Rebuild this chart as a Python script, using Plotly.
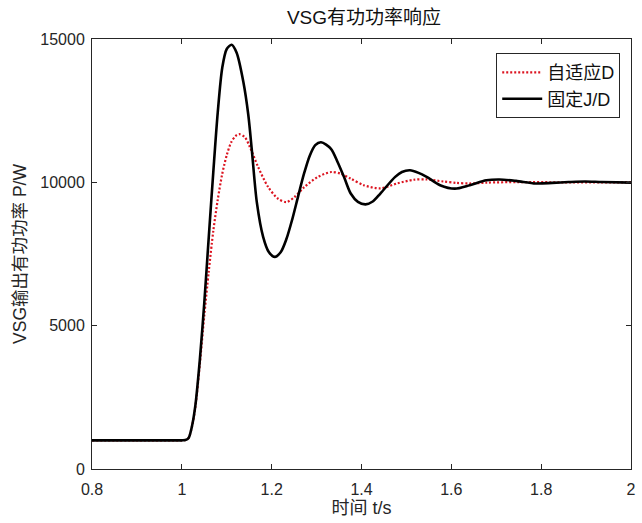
import plotly.graph_objects as go

# Fixed J/D response (time in s, active power in W)
t_fixed = [0.80, 0.90, 1.000, 1.008, 1.015, 1.022, 1.030, 1.040, 1.050, 1.060, 1.070,
           1.080, 1.090, 1.100, 1.111, 1.122, 1.137, 1.148, 1.156, 1.167, 1.181,
           1.194, 1.207, 1.220, 1.233, 1.246, 1.259, 1.272, 1.285, 1.297, 1.310,
           1.332, 1.347, 1.362, 1.376, 1.392, 1.409, 1.425, 1.442, 1.475, 1.490,
           1.508, 1.527, 1.545, 1.575, 1.608, 1.641, 1.678, 1.707, 1.744, 1.788,
           1.825, 1.861, 1.898, 1.935, 2.000]
p_fixed = [1000, 1000, 1000, 1010, 1080, 1450, 2200, 3800, 5800, 8100, 10350,
           12450, 14000, 14650, 14800, 14520, 13500, 12350, 11100, 9300, 8100,
           7560, 7400, 7560, 8030, 8720, 9520, 10300, 10940, 11300, 11400,
           11170, 10700, 10150, 9610, 9320, 9230, 9330, 9610, 10190, 10360,
           10420, 10330, 10190, 9900, 9780, 9900, 10070, 10100, 10050, 9960,
           9980, 10010, 10030, 10010, 9990]

# Adaptive D response
t_adapt = [0.80, 0.90, 1.000, 1.008, 1.015, 1.022, 1.030, 1.040, 1.050, 1.060, 1.070,
           1.080, 1.090, 1.100, 1.110, 1.120, 1.128, 1.140, 1.151, 1.170, 1.192,
           1.214, 1.233, 1.251, 1.273, 1.303, 1.333, 1.354, 1.376, 1.405, 1.442,
           1.479, 1.516, 1.545, 1.582, 1.611, 1.640, 1.680, 1.750, 1.850, 2.000]
p_adapt = [1000, 1000, 1000, 1010, 1080, 1440, 2150, 3650, 5350, 6900, 8300,
           9400, 10300, 10950, 11400, 11620, 11680, 11580, 11250, 10530, 9840,
           9430, 9310, 9490, 9840, 10190, 10360, 10300, 10130, 9900, 9790,
           9960, 10090, 10100, 10030, 9980, 9960, 9990, 10010, 10000, 10000]

x_ticks = [0.8, 1.0, 1.2, 1.4, 1.6, 1.8, 2.0]
x_tick_text = ["0.8", "1", "1.2", "1.4", "1.6", "1.8", "2"]
y_ticks = [0, 5000, 10000, 15000]
y_tick_text = ["0", "5000", "10000", "15000"]

FONT = "Liberation Sans, Arial, Noto Sans CJK SC, sans-serif"
AXIS_COLOR = "#262626"

fig = go.Figure()
fig.add_trace(go.Scatter(
    x=t_adapt, y=p_adapt, mode="lines", name="自适应D",
    line=dict(color="#dc1420", width=2.2, dash="2px,2px", shape="spline", smoothing=0.8),
))
fig.add_trace(go.Scatter(
    x=t_fixed, y=p_fixed, mode="lines", name="固定J/D",
    line=dict(color="black", width=2.6, shape="spline", smoothing=0.8),
))

axis_common = dict(
    showgrid=False, zeroline=False, showline=True, mirror="ticks",
    linecolor=AXIS_COLOR, linewidth=1, ticks="inside", ticklen=5,
    tickcolor=AXIS_COLOR, tickfont=dict(family=FONT, size=16, color=AXIS_COLOR),
)

fig.update_layout(
    width=642, height=523,
    margin=dict(l=92, r=6, t=39, b=54),
    paper_bgcolor="white", plot_bgcolor="white",
    title=dict(text="VSG有功功率响应", x=0.567, xanchor="center", y=0.967, yanchor="middle",
               font=dict(family=FONT, size=19, color="#111111")),
    xaxis=dict(range=[0.8, 2.0], tickvals=x_ticks, ticktext=x_tick_text,
               ticklabelstandoff=6,
               title=dict(text="时间 t/s", font=dict(family=FONT, size=18, color=AXIS_COLOR), standoff=2),
               **axis_common),
    yaxis=dict(range=[0, 15000], tickvals=y_ticks, ticktext=y_tick_text,
               ticklabelstandoff=3,
               title=dict(text="VSG输出有功功率 P/W", font=dict(family=FONT, size=17.5, color=AXIS_COLOR), standoff=9),
               **axis_common),
    legend=dict(x=0.980, y=0.967, xanchor="right", yanchor="top",
                bgcolor="white", bordercolor=AXIS_COLOR, borderwidth=1,
                font=dict(family=FONT, size=18, color="#111111"),
                itemwidth=40, tracegroupgap=0),
    showlegend=True,
)

fig.write_html("out.html")
